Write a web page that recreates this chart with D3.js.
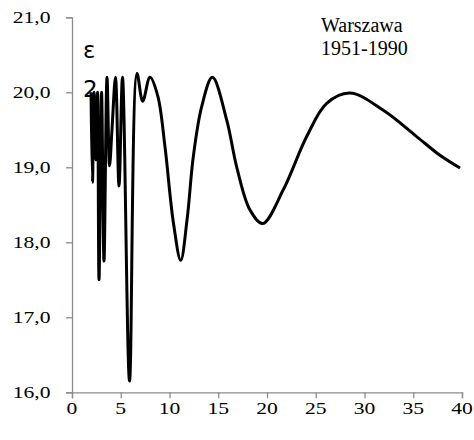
<!DOCTYPE html>
<html>
<head>
<meta charset="utf-8">
<script src="https://cdn.jsdelivr.net/npm/d3@7"></script>
<style>
  html, body { margin: 0; padding: 0; background: #fff; }
  svg { display: block; }
  .lbl { font-family: "Liberation Serif", "Times New Roman", serif; fill: #000; }
</style>
</head>
<body>
<svg id="chart" width="474" height="440"></svg>
<script>
// Period (x) and ε² value (y) of the Warszawa 1951-1990 series
const periods = [1.95, 2.1, 2.26, 2.46, 2.62, 2.77, 3.03, 3.28, 3.59, 3.85, 4.1, 4.46, 4.82, 5.18,
  5.9, 6.67, 7.25, 8.0, 8.8, 9.54, 10.4, 11.15, 11.8, 12.44, 13.3, 14.4, 15.87, 16.9, 18.26,
  19.56, 21.67, 24.07, 26.1, 28.5, 31.93, 35.35, 37.74, 39.8];
const values = [20.0, 18.8, 20.0, 19.1, 20.0, 17.5, 20.0, 17.75, 20.2, 19.02, 19.5, 20.2, 18.75, 20.2,
  16.15, 20.25, 19.88, 20.2, 19.95, 19.27, 18.26, 17.76, 18.3, 19.14, 19.81, 20.2, 19.63, 19.0, 18.43,
  18.25, 18.7, 19.41, 19.85, 19.99, 19.76, 19.41, 19.16, 18.99];

const xTicks = [0, 5, 10, 15, 20, 25, 30, 35, 40];
const yTicks = [16, 17, 18, 19, 20, 21];
const legendLines = ["Warszawa", "1951-1990"];
const axisLabel = ["ε", "2"];

const svg = d3.select("#chart");
const plotLeft = 72, plotRight = 462, plotTop = 17.3, plotBottom = 392.3;

const x = d3.scaleLinear().domain([0, 40]).range([plotLeft, plotRight]);
const y = d3.scaleLinear().domain([16, 21]).range([plotBottom, plotTop]);

const fmt = v => v.toFixed(1).replace(".", ",");
const axisColor = "#8c8c8c";
const tickFont = 17;   // tick labels are drawn slightly widened
const stretch = 1.27;

// Axis lines and tick marks
const gy = svg.append("g")
  .attr("transform", `translate(${plotLeft},0)`)
  .call(d3.axisLeft(y).tickValues(yTicks).tickFormat("").tickSize(6));
const gx = svg.append("g")
  .attr("transform", `translate(0,${plotBottom})`)
  .call(d3.axisBottom(x).tickValues(xTicks).tickFormat("").tickSize(6));

[gx, gy].forEach(g => {
  g.select(".domain").attr("stroke", axisColor).attr("stroke-width", 1.3);
  g.selectAll(".tick line").attr("stroke", axisColor).attr("stroke-width", 1.3);
  g.selectAll(".tick text").remove();
});

// Tick labels
svg.append("g").selectAll("text")
  .data(xTicks)
  .join("text")
  .attr("class", "lbl")
  .style("font-size", tickFont + "px")
  .attr("text-anchor", "middle")
  .attr("transform", d => `translate(${x(d)},${plotBottom + 22}) scale(${stretch},1)`)
  .text(d => d);

svg.append("g").selectAll("text")
  .data(yTicks)
  .join("text")
  .attr("class", "lbl")
  .style("font-size", tickFont + "px")
  .attr("text-anchor", "end")
  .attr("dy", "0.34em")
  .attr("transform", d => `translate(${plotLeft - 21.5},${y(d)}) scale(${stretch},1)`)
  .text(fmt);

// Series line
const line = d3.line()
  .x((d, i) => x(periods[i]))
  .y(d => y(d))
  .curve(d3.curveCatmullRom.alpha(0.5));

svg.append("path")
  .datum(values)
  .attr("d", line)
  .attr("fill", "none")
  .attr("stroke", "#000")
  .attr("stroke-width", 3)
  .attr("stroke-linejoin", "round");

// Legend text
svg.append("text")
  .attr("class", "lbl")
  .style("font-size", "20px")
  .selectAll("tspan")
  .data(legendLines)
  .join("tspan")
  .attr("x", 321)
  .attr("y", (d, i) => 32 + i * 23)
  .text(d => d);

// Axis title ε²
svg.append("text")
  .style("font-family", "'DejaVu Sans', sans-serif")
  .style("font-size", "23px")
  .attr("fill", "#000")
  .selectAll("tspan")
  .data(axisLabel)
  .join("tspan")
  .attr("x", 83)
  .attr("y", (d, i) => 58 + i * 39)
  .text(d => d);
</script>
</body>
</html>
